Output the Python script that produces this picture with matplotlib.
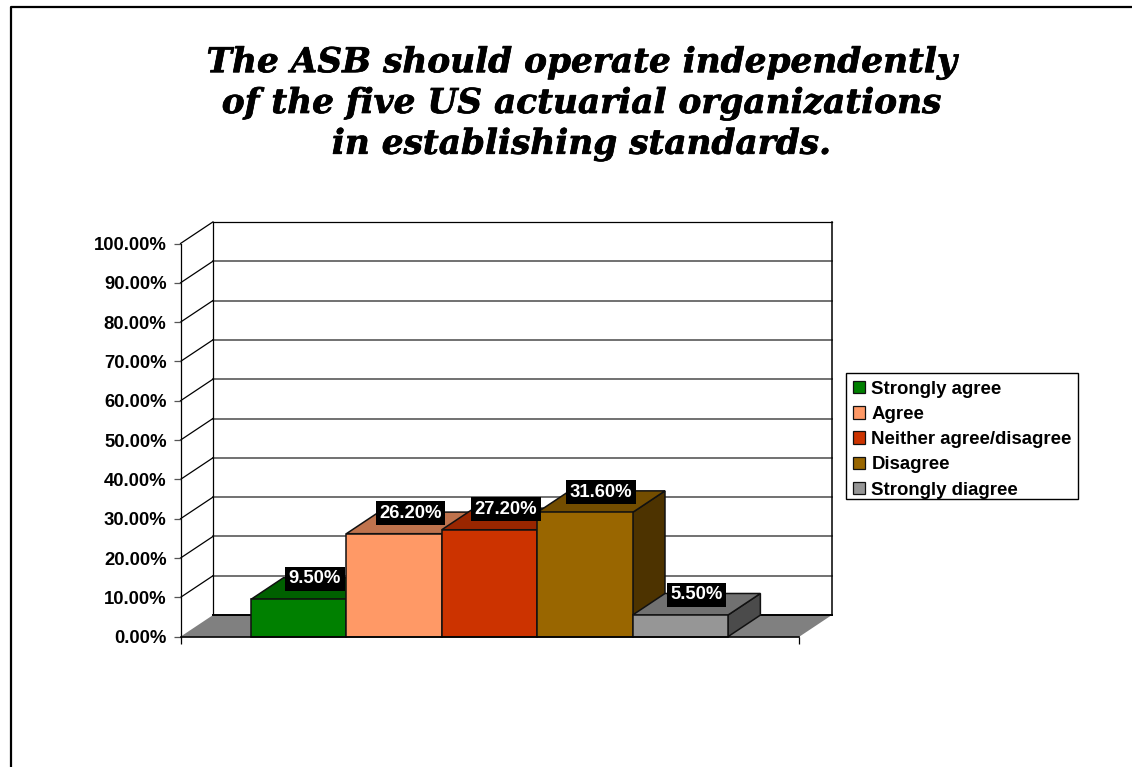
import matplotlib
matplotlib.use('Agg')
import matplotlib.pyplot as plt
import matplotlib.patheffects as pe
from matplotlib.lines import Line2D
from matplotlib.patches import Patch, Rectangle
from matplotlib.colors import to_rgb

categories = ['Strongly agree', 'Agree', 'Neither agree/disagree', 'Disagree', 'Strongly diagree']
values = [9.5, 26.2, 27.2, 31.6, 5.5]
colors = ['#008000', '#FF9966', '#CC3300', '#996600', '#969696']
y_ticks = [0, 10, 20, 30, 40, 50, 60, 70, 80, 90, 100]
title = 'The ASB should operate independently\nof the five US actuarial organizations\nin establishing standards.'

W, H = 1132, 767
plt.rcParams['font.family'] = ['Liberation Sans', 'DejaVu Sans']
plt.rcParams['font.weight'] = 'bold'
plt.rcParams['font.size'] = 13.3

# front plane of the fake 3d box, in pixels of the picture
left, right, top, bottom = 180.5, 799.3, 243.5, 636.7
xmin, xmax = -1.239, 5.248
# depth of the box in data units
dx = 0.34
dy = 5.49


def shade(color, k):
    return tuple(c * k for c in to_rgb(color))


fig = plt.figure(figsize=(W / 100, H / 100), dpi=100, facecolor='white')
ax = fig.add_axes([left / W, 1 - bottom / H, (right - left) / W, (bottom - top) / H])
ax.set_xlim(xmin, xmax)
ax.set_ylim(0, 100)
ax.patch.set_visible(False)

# back wall and gridlines
ax.fill([xmin + dx, xmax + dx, xmax + dx, xmin + dx], [dy, dy, 100 + dy, 100 + dy],
        facecolor='white', edgecolor='none', zorder=1, clip_on=False)
for y in y_ticks[1:]:
    gc = 'black' if y == 100 else '#666666'
    lw = 0.9 if y == 100 else 1.3
    ax.plot([xmin + dx, xmax + dx], [y + dy, y + dy], color=gc, lw=lw, zorder=1.5, clip_on=False)
    ax.plot([xmin, xmin + dx], [y, y + dy], color='black', lw=0.9, zorder=1.5, clip_on=False)
ax.plot([xmin + dx, xmin + dx], [dy, 100 + dy], color='black', lw=0.9, zorder=1.5, clip_on=False)
ax.plot([xmax + dx, xmax + dx], [dy, 100 + dy], color='black', lw=1.1, zorder=1.5, clip_on=False)

# floor
ax.fill([xmin, xmax, xmax + dx, xmin + dx], [0, 0, dy, dy], facecolor='#808080',
        edgecolor='none', zorder=2, clip_on=False)
ax.plot([xmin + dx, xmax + dx], [dy, dy], color='black', lw=1.4, zorder=2.1, clip_on=False)

# bars, left to right so each one hides the side of the one before
for i, (v, c) in enumerate(zip(values, colors)):
    z = 3 + i * 0.1
    x0, x1 = i - 0.5, i + 0.5
    ax.fill([x1, x1 + dx, x1 + dx, x1], [0, dy, v + dy, v], facecolor=shade(c, 0.5),
            edgecolor='#111111', lw=1.1, zorder=z, clip_on=False)
    ax.fill([x0, x1, x1 + dx, x0 + dx], [v, v, v + dy, v + dy], facecolor=shade(c, 0.75),
            edgecolor='#111111', lw=1.1, zorder=z, clip_on=False)
    ax.bar(i, v, width=1, color=c, edgecolor='#111111', lw=1.1, zorder=z + 0.01, clip_on=False)

for i, v in enumerate(values):
    ax.text(i + dx / 2, v + dy - 0.3, f'{v:.2f}%', color='white', ha='center', va='center', zorder=10,
            bbox=dict(facecolor='black', edgecolor='none', pad=2.5))

for s in ['top', 'right']:
    ax.spines[s].set_visible(False)
ax.spines['left'].set_linewidth(0.9)
ax.spines['bottom'].set_linewidth(1.2)
ax.spines['bottom'].set_zorder(5)
ax.set_yticks(y_ticks)
ax.set_yticklabels([f'{y:.2f}%' for y in y_ticks])
ax.set_xticks([xmin, xmax])
ax.set_xticklabels([])
ax.tick_params(axis='y', length=5, width=0.9, color='#555555', pad=5)
ax.tick_params(axis='x', length=5, width=0.9)

# legend frame drawn on its own, the real one comes out too tall
fig.add_artist(Rectangle((846 / W, 1 - 499 / H), 232 / W, 126 / H, transform=fig.transFigure,
                         facecolor='white', edgecolor='black', lw=1.0, zorder=-1))
handles = [Patch(facecolor=c, edgecolor='#111111', lw=0.9) for c in colors]
leg = ax.legend(handles, categories, loc='upper left', bbox_to_anchor=(846 / W, 1 - 374 / H),
                bbox_transform=fig.transFigure, borderaxespad=0, frameon=False,
                handlelength=0.65, handleheight=0.65, handletextpad=0.35,
                labelspacing=0.44, borderpad=0.36, fontsize=13.45)
leg.set_zorder(20)

t = fig.text(581 / W, 1 - 103.5 / H, title, ha='center', va='center', family='DejaVu Serif',
             style='italic', weight='bold', fontsize=24.7, linespacing=1.3)
t.set_path_effects([pe.withStroke(linewidth=0.5, foreground='black')])

# outer frame, cut off on the right and at the bottom
fig.add_artist(Line2D([11 / W, 11 / W, 1], [0, 1 - 7 / H, 1 - 7 / H], color='black', lw=1.6))

fig.savefig('out.png', dpi=100)
